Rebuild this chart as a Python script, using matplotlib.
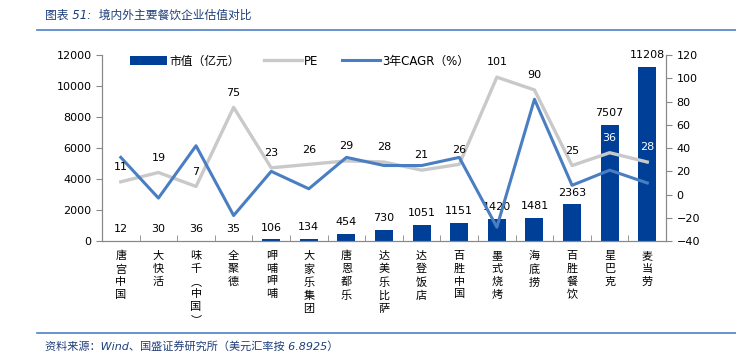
import matplotlib
matplotlib.use('Agg')
import matplotlib.pyplot as plt
import numpy as np

plt.rcParams['font.family'] = ['DejaVu Sans', 'Noto Sans CJK SC']

companies = ['唐宫中国', '大快活', '味千︵中国︶', '全聚德', '呷哺呷哺', '大家乐集团', '唐恩都乐',
             '达美乐比萨', '达登饭店', '百胜中国', '墨式烧烤', '海底捞', '百胜餐饮', '星巴克', '麦当劳']
market_cap = [12, 30, 36, 35, 106, 134, 454, 730, 1051, 1151, 1420, 1481, 2363, 7507, 11208]
pe = [11, 19, 7, 75, 23, 26, 29, 28, 21, 26, 101, 90, 25, 36, 28]
cagr = [32, -3, 42, -18, 20, 5, 32, 25, 25, 32, -28, 82, 8, 21, 10]

bar_color = '#003F98'
pe_color = '#C9C9C9'
cagr_color = '#4A7EC2'
txt_blue = '#1F3F7A'

fig = plt.figure(figsize=(7.36, 3.53), dpi=100)
ax = fig.add_axes([0.1386, 0.317, 0.7664, 0.527])
ax2 = ax.twinx()

x = np.arange(len(companies))
bars = ax.bar(x, market_cap, width=0.48, color=bar_color, label='市值（亿元）')
for xi, v in zip(x, market_cap):
    ax.annotate(str(v), (xi, v), xytext=(0, 5), textcoords='offset points',
                ha='center', va='bottom', fontsize=8, color='black')

ln1, = ax2.plot(x, pe, color=pe_color, lw=2.4, label='PE')
ln2, = ax2.plot(x, cagr, color=cagr_color, lw=2.2, label='3年CAGR（%）')
for i, (xi, v) in enumerate(zip(x, pe)):
    c = 'white' if i >= 13 else 'black'
    ax2.annotate(str(v), (xi, v), xytext=(0, 7), textcoords='offset points',
                 ha='center', va='bottom', fontsize=8, color=c)

ax.set_xlim(-0.5, len(companies) - 0.5)
ax.set_ylim(0, 12000)
ax.set_yticks(np.arange(0, 12001, 2000))
ax2.set_ylim(-40, 120)
ax2.set_yticks(np.arange(-40, 121, 20))

ax.set_xticks(x)
ax.set_xticklabels(['\n'.join(name) for name in companies], fontsize=8,
                   family=['Noto Sans CJK SC'], linespacing=1.35, va='top')
ax.tick_params(axis='x', length=0, pad=7)
ax.set_xticks(np.arange(-0.5, len(companies), 1), minor=True)
ax.tick_params(axis='x', which='minor', direction='in', length=4, color='#888888')

ax.tick_params(axis='y', labelsize=8, length=4, color='#888888')
ax2.tick_params(axis='y', labelsize=8, length=4, color='#888888')

for a in (ax, ax2):
    a.spines['top'].set_visible(False)
    for s in ('left', 'right', 'bottom'):
        a.spines[s].set_color('#888888')

handles = [bars, ln1, ln2]
ax.legend(handles, [h.get_label() for h in handles], loc='upper left',
          bbox_to_anchor=(0.03, 1.06), ncol=3, frameon=False, fontsize=8.5,
          handlelength=3.2, handletextpad=0.2, columnspacing=2.0)

fig.text(0.061, 0.957, '图表 51:  境内外主要餐饮企业估值对比', fontsize=8.5,
         color=txt_blue, style='italic', va='center')
fig.add_artist(plt.Line2D([0.05, 1.0], [0.915, 0.915], color='#4F7FC8', lw=1.2))
fig.add_artist(plt.Line2D([0.05, 1.0], [0.057, 0.057], color='#4F7FC8', lw=1.2))
fig.text(0.061, 0.018, '资料来源：Wind、国盛证券研究所（美元汇率按 6.8925）', fontsize=8,
         color=txt_blue, style='italic', va='center')

fig.savefig('out.png', dpi=100)
